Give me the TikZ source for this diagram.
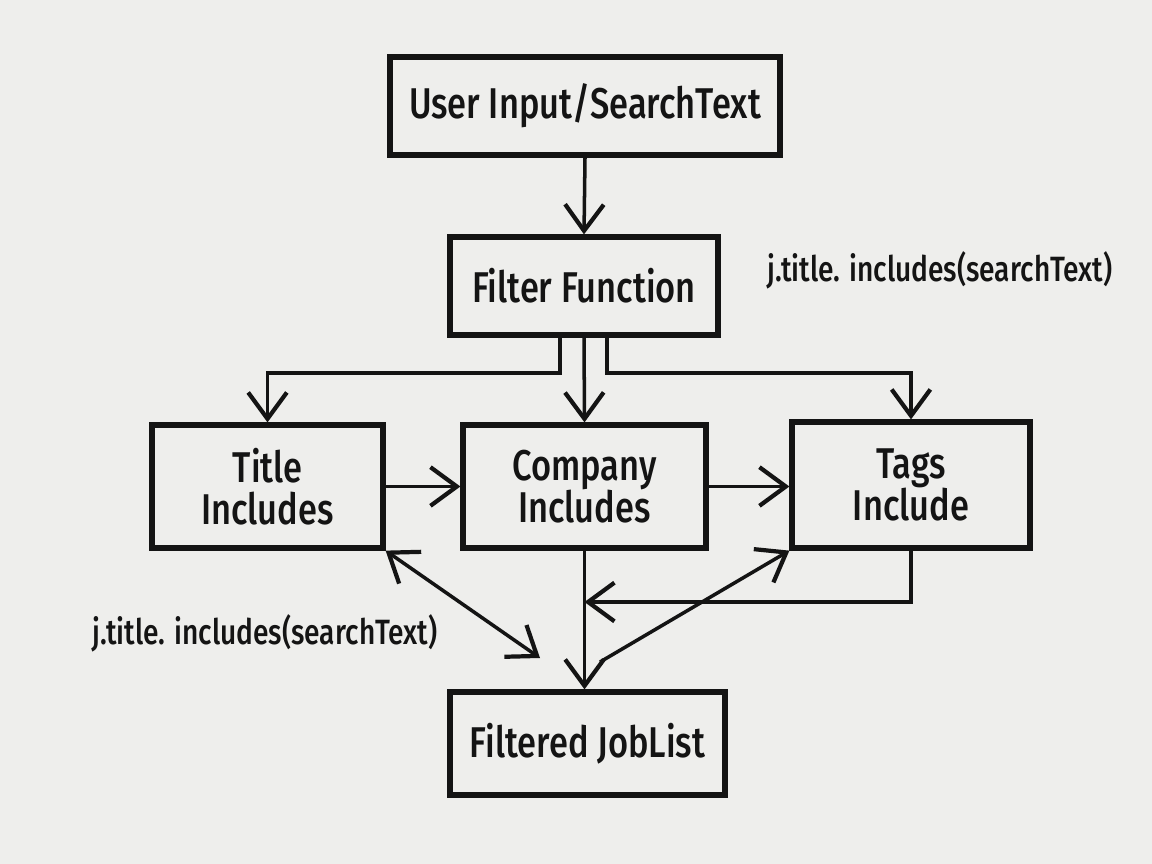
\documentclass[tikz,border=0pt]{standalone}
\usepackage{fontspec}
\newfontfamily\hand[FakeStretch=0.8]{Fira Sans Medium}
\usetikzlibrary{arrows.meta}
\definecolor{paper}{HTML}{EEEEEC}
\definecolor{ink}{HTML}{141414}
\tikzset{
  box/.style={draw=ink, line width=3pt, minimum width=#1, inner sep=0pt, align=center,
    font=\hand\fontsize{24.5}{27}\selectfont, text=ink},
  conn/.style={draw=ink, line width=2pt, -{Straight Barb[length=15pt,width=22pt,line width=2.4pt]}},
  biconn/.style={draw=ink, line width=2pt, {Straight Barb[length=15pt,width=22pt,line width=2.4pt]}-{Straight Barb[length=15pt,width=22pt,line width=2.4pt]}},
  lab/.style={font=\hand\fontsize{20}{23}\selectfont, text=ink, inner sep=0pt}
}
\begin{document}
\begin{tikzpicture}[x=0.02cm,y=-0.02cm]
\fill[paper] (0,0) rectangle (1152,864);
\useasboundingbox (0,0) rectangle (1152,864);
\node[box=7.8cm, minimum height=1.96cm] (A) at (585,106) {User Input/SearchText};
\node[box=5.36cm, minimum height=1.96cm] (B) at (584,286) {Filter Function};
\node[box=4.62cm, minimum height=2.46cm] (T) at (267.5,486.5) {Title\\[-3pt]Includes};
\node[box=4.86cm, minimum height=2.46cm] (C) at (584.5,486.5) {Company\\[-3pt]Includes};
\node[box=4.76cm, minimum height=2.52cm] (G) at (911,485) {Tags\\[-3pt]Include};
\node[box=5.5cm, minimum height=2.06cm] (F) at (587.5,743.5) {Filtered JobList};
\node[lab] (L1) at (940,270) {j.title. includes(searchText)};
\node[lab] (L2) at (265,633) {j.title. includes(searchText)};
\coordinate (bl) at (560,335);
\coordinate (br) at (607,335);
\coordinate (m) at (584.5,602);
\coordinate (q) at (540,658);
\coordinate (p) at (600,662);
\draw[conn] (A.south) -- (B.north);
\draw[conn] (bl) -- (560,373) -| (T.north);
\draw[conn] (B.south) -- (C.north);
\draw[conn] (br) -- (607,373) -| (G.north);
\draw[conn] (T.east) -- (C.west);
\draw[conn] (C.east) -- (C.east -| G.west);
\draw[conn] (C.south) -- (C.south |- F.north);
\draw[conn] (G.south) |- (m);
\draw[biconn] (T.south east) -- (q);
\draw[conn] (p) -- (G.south west);
\end{tikzpicture}
\end{document}
